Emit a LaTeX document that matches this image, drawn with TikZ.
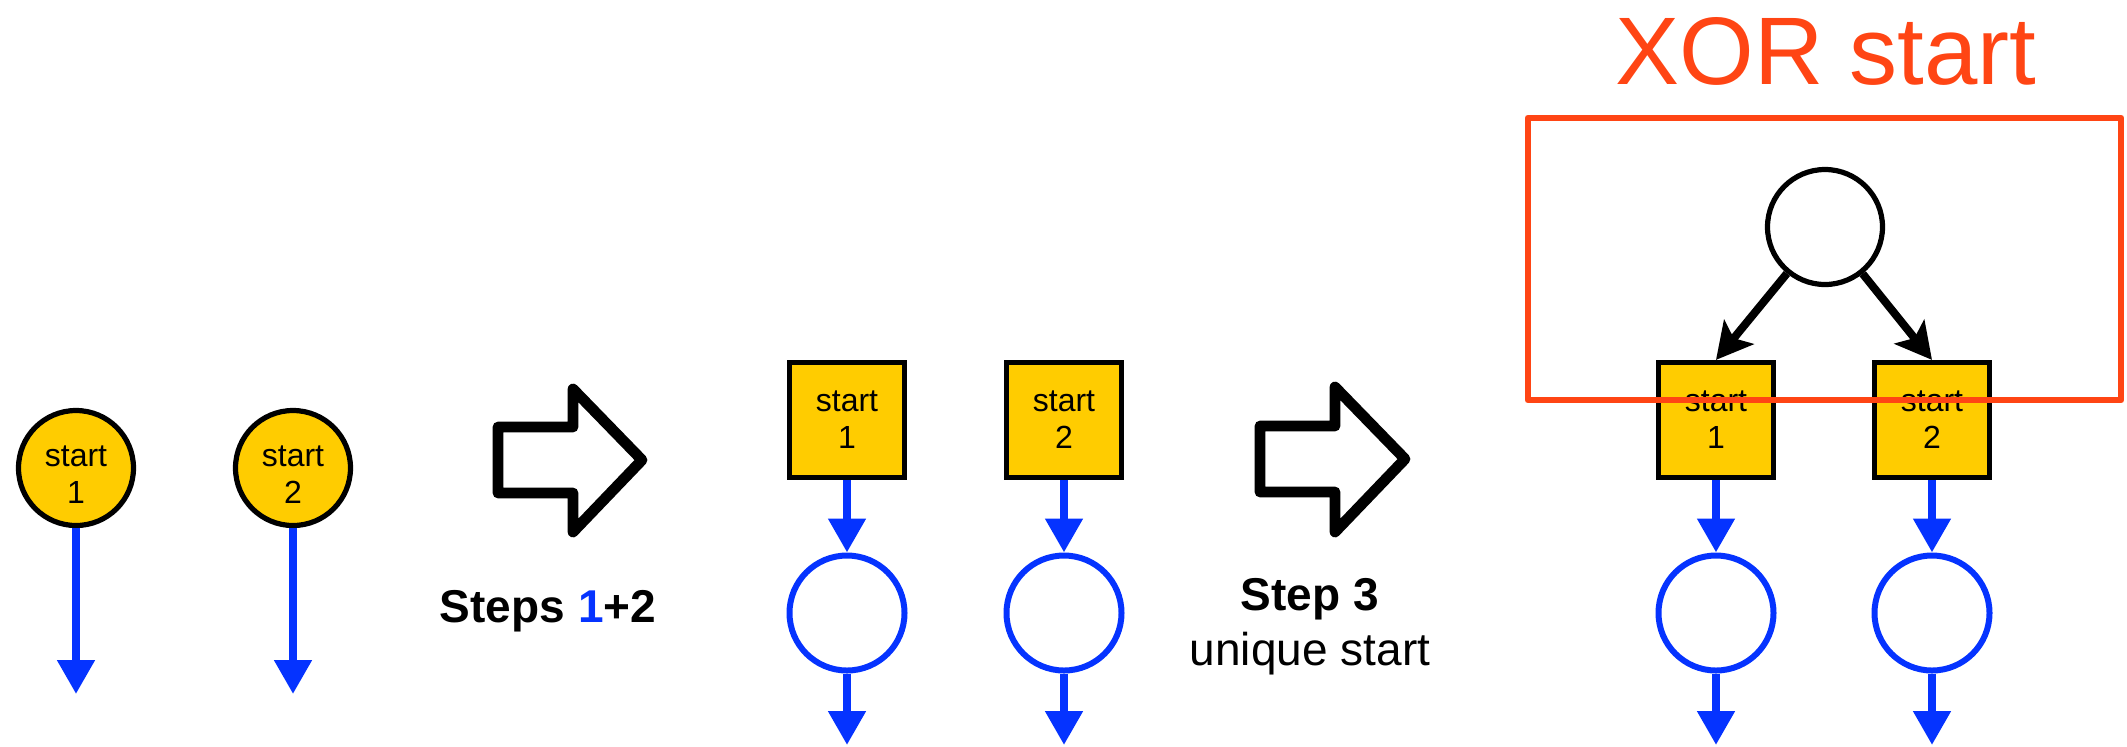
\documentclass[tikz,border=0pt]{standalone}
\usepackage{fontspec}
\setmainfont{Liberation Sans}
\usetikzlibrary{arrows.meta}
\definecolor{gyellow}{RGB}{255,204,0}
\definecolor{gblue}{RGB}{5,51,255}
\definecolor{gred}{RGB}{255,69,20}
\begin{document}
\begin{tikzpicture}[x=0.5pt,y=-0.5pt,
  startcirc/.style={circle, draw=black, line width=2.6pt, fill=gyellow, minimum size=57.5pt, inner sep=0pt, align=center, text height=35.5pt, font=\fontsize{16}{18.5}\selectfont},
  startbox/.style={rectangle, draw=black, line width=2.6pt, fill=gyellow, minimum size=57.5pt, inner sep=0pt, align=center, font=\fontsize{16}{18.5}\selectfont},
  taskcirc/.style={circle, draw=gblue, line width=3pt, fill=white, minimum size=57.5pt, inner sep=0pt},
  gatecirc/.style={circle, draw=black, line width=2.6pt, fill=white, minimum size=57.5pt, inner sep=0pt},
  flow/.style={draw=gblue, line width=4pt, -{Triangle[length=17pt,width=18pt]}},
  blackflow/.style={draw=black, line width=4pt, -{Stealth[length=18pt,width=19pt,inset=4pt]}},
  blockarrow/.style={draw=black, line width=5.4pt, line join=round},
  steplabel/.style={font=\fontsize{23}{27}\selectfont\bfseries, anchor=base, inner sep=0pt},
  plainlabel/.style={font=\fontsize{23}{27}\selectfont, anchor=base, inner sep=0pt},
  xorlabel/.style={font=\fontsize{48}{56}\selectfont, text=gred, anchor=base, inner sep=0pt},
  xorbox/.style={draw=gred, line width=3.4pt, line join=round}
]
\useasboundingbox (0,0) rectangle (2127,746);

% stage 1
\node[startcirc] (a1) at (76,468) {start\\1};
\node[startcirc] (a2) at (293,468) {start\\2};
\coordinate (a1e) at (76,694);
\coordinate (a2e) at (293,694);
\draw[flow] (a1) -- (a1e);
\draw[flow] (a2) -- (a2e);

% block arrow 1
\draw[blockarrow] (498,427) -- (573,427) -- (573,389) -- (642,460) -- (573,532) -- (573,493) -- (498,493) -- cycle;
\node[steplabel] (steps12) at (548,622) {Steps \textcolor{gblue}{1}+2};

% stage 2
\node[startbox] (s1) at (847,420) {start\\1};
\node[startbox] (s2) at (1064,420) {start\\2};
\node[taskcirc] (b1) at (847,613) {};
\node[taskcirc] (b2) at (1064,613) {};
\coordinate (b1e) at (847,745);
\coordinate (b2e) at (1064,745);
\draw[flow] (s1) -- (b1);
\draw[flow] (s2) -- (b2);
\draw[flow] (b1) -- (b1e);
\draw[flow] (b2) -- (b2e);

% block arrow 2
\draw[blockarrow] (1260,426) -- (1335,426) -- (1335,387) -- (1405,459) -- (1335,532) -- (1335,492) -- (1260,492) -- cycle;
\node[steplabel] (step3) at (1310,610) {Step 3};
\node[plainlabel] (unique) at (1310,665) {unique start};

% stage 3
\node[gatecirc] (g) at (1825,227) {};
\node[startbox] (t1) at (1716,420) {start\\1};
\node[startbox] (t2) at (1932,420) {start\\2};
\node[taskcirc] (c1) at (1716,613) {};
\node[taskcirc] (c2) at (1932,613) {};
\coordinate (c1e) at (1716,745);
\coordinate (c2e) at (1932,745);
\draw[blackflow] (g) -- (t1.north);
\draw[blackflow] (g) -- (t2.north);
\draw[flow] (t1) -- (c1);
\draw[flow] (t2) -- (c2);
\draw[flow] (c1) -- (c1e);
\draw[flow] (c2) -- (c2e);

\draw[xorbox] (1528,118) rectangle (2121,400);
\node[xorlabel] (xor) at (1826,84) {XOR start};
\end{tikzpicture}
\end{document}
